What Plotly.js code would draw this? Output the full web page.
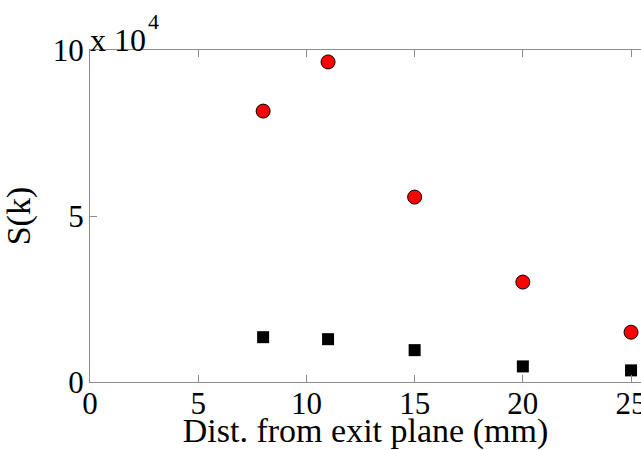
<!DOCTYPE html>
<html>
<head>
<meta charset="utf-8">
<script src="https://cdn.plot.ly/plotly-3.0.1.min.js"></script>
<style>html,body{margin:0;padding:0;background:#fff;}#chart{width:641px;height:450px;}</style>
</head>
<body>
<div id="chart"></div>
<script>
const distances = [8, 11, 15, 20, 25];
const redSeries = [81600, 96400, 55700, 30100, 15000];
const blackSeries = [13500, 12900, 9600, 4700, 3500];
const xTickVals = [0, 5, 10, 15, 20, 25];
const yTickVals = [0, 50000, 100000];
const yTickText = ['0', '5', '10'];
const exponentBase = 'x 10';
const exponentPower = '4';

const family = 'Liberation Serif, Times New Roman, serif';
const tickFont = {family: family, size: 31, color: '#000'};
const titleFont = {family: family, size: 34, color: '#000'};
const axisColor = '#8c8c8c';

const traces = [
  {x: distances, y: redSeries, type: 'scatter', mode: 'markers',
   marker: {symbol: 'circle', size: 14, color: '#ff0000', line: {color: '#000', width: 1}},
   cliponaxis: false, showlegend: false},
  {x: distances, y: blackSeries, type: 'scatter', mode: 'markers',
   marker: {symbol: 'square', size: 12, color: '#000', line: {color: '#000', width: 0}},
   cliponaxis: false, showlegend: false}
];

const layout = {
  width: 641, height: 450,
  margin: {l: 90, r: 0, t: 50, b: 68},
  paper_bgcolor: '#fff', plot_bgcolor: '#fff',
  font: tickFont,
  showlegend: false,
  xaxis: {
    range: [0, 25.46], tickvals: xTickVals, ticks: 'inside', ticklen: 7,
    tickcolor: axisColor, showline: true, linecolor: axisColor, linewidth: 1,
    mirror: 'ticks', showgrid: false, zeroline: false, tickfont: tickFont,
    ticklabeloverflow: 'allow', ticklabelstandoff: -6,
    title: {text: 'Dist. from exit plane (mm)', font: titleFont, standoff: 6}
  },
  yaxis: {
    range: [0, 100000], tickvals: yTickVals, ticktext: yTickText,
    ticks: 'inside', ticklen: 7, tickcolor: axisColor, showline: true,
    linecolor: axisColor, linewidth: 1, mirror: false, showgrid: false,
    zeroline: false, tickfont: tickFont, ticklabelstandoff: -1,
    title: {text: 'S(k)', font: titleFont, standoff: 12}
  },
  annotations: [
    {text: exponentBase, xref: 'paper', yref: 'paper', x: 0, y: 1,
     xanchor: 'left', yanchor: 'bottom', showarrow: false,
     font: {family: family, size: 32, color: '#000'}, yshift: -10, xshift: -2},
    {text: exponentPower, xref: 'paper', yref: 'paper', x: 0, y: 1,
     xanchor: 'left', yanchor: 'bottom', showarrow: false,
     font: {family: family, size: 22, color: '#000'}, yshift: 14, xshift: 56}
  ]
};

Plotly.newPlot('chart', traces, layout, {displayModeBar: false, staticPlot: true});
</script>
</body>
</html>
